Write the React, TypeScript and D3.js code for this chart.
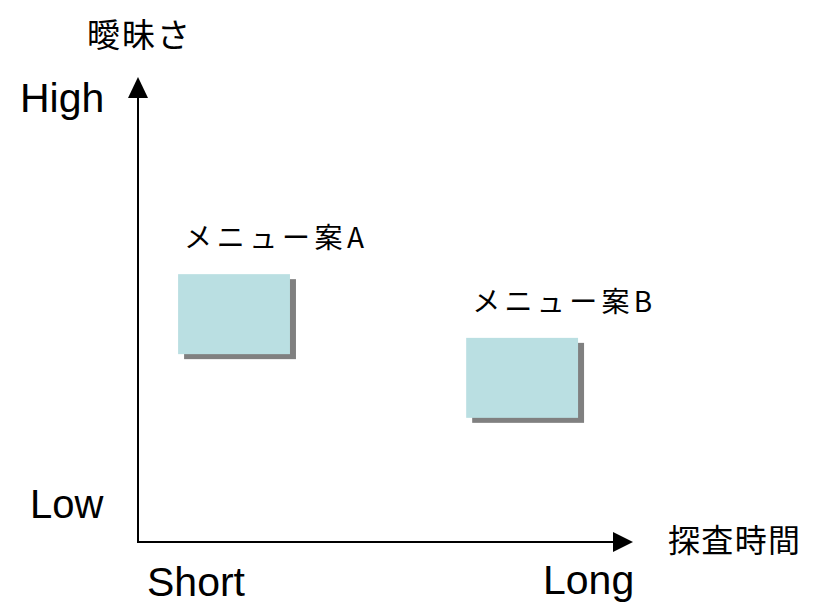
import React from 'react';
import * as d3 from 'd3';

// ambiguity (y) vs search time (x), both on a 0-100 scale
const menus = ['メニュー案A', 'メニュー案B'];
const timeFrom = [8.1, 66.3];
const timeTo = [30.7, 88.9];
const ambiguityFrom = [40.4, 26.7];
const ambiguityTo = [57.6, 43.9];

const yTitle = '曖昧さ';
const xTitle = '探査時間';
const yTicks = ['Low', 'High'];
const xTicks = ['Short', 'Long'];

const W = 819;
const H = 605;
const latin = '"Liberation Sans", Arial, "Noto Sans CJK JP", sans-serif';
const cjk = '"Noto Sans CJK JP", sans-serif';

export default function App() {
  const x = d3.scaleLinear().domain([0, 100]).range([138, 633]);
  const y = d3.scaleLinear().domain([0, 100]).range([542, 77]);
  const head = 20;

  const boxes = menus.map((name, i) => ({
    name,
    x0: x(timeFrom[i]),
    x1: x(timeTo[i]),
    y0: y(ambiguityTo[i]),
    y1: y(ambiguityFrom[i]),
  }));

  return (
    <svg width={W} height={H} style={{ position: 'absolute', left: 0, top: 0 }}>
      <rect width={W} height={H} fill="#fff" />

      {/* axes */}
      <line x1={x(0)} y1={y(0)} x2={x(0)} y2={y(100) + head} stroke="#000" strokeWidth={2} />
      <path
        d={`M${x(0)},${y(100)} L${x(0) - 10},${y(100) + head + 1} L${x(0) + 10},${y(100) + head + 1} Z`}
        fill="#000"
      />
      <line x1={x(0) - 1} y1={y(0)} x2={x(100) - head} y2={y(0)} stroke="#000" strokeWidth={2} />
      <path
        d={`M${x(100)},${y(0)} L${x(100) - head},${y(0) - 10} L${x(100) - head},${y(0) + 10} Z`}
        fill="#000"
      />

      {/* boxes with drop shadow */}
      {boxes.map((b) => (
        <g key={b.name}>
          <rect x={b.x0 + 6} y={b.y0 + 5} width={b.x1 - b.x0} height={b.y1 - b.y0} fill="#808080" />
          <rect x={b.x0} y={b.y0} width={b.x1 - b.x0} height={b.y1 - b.y0} fill="#badfe2" />
          <text
            x={b.x0 + 6}
            y={b.y0 - 26}
            fontFamily={cjk}
            fontSize={28}
            textLength={180}
            lengthAdjust="spacing"
            fill="#000"
          >
            {b.name}
          </text>
        </g>
      ))}

      {/* titles */}
      <text x={87} y={47} fontFamily={cjk} fontSize={33} textLength={103} lengthAdjust="spacing" fill="#000">
        {yTitle}
      </text>
      <text x={668} y={552} fontFamily={cjk} fontSize={32} textLength={132} lengthAdjust="spacing" fill="#000">
        {xTitle}
      </text>

      {/* tick words */}
      <text x={20} y={112} fontFamily={latin} fontSize={41} fill="#000">{yTicks[1]}</text>
      <text x={30} y={518} fontFamily={latin} fontSize={40} fill="#000">{yTicks[0]}</text>
      <text x={147} y={596} fontFamily={latin} fontSize={41} fill="#000">{xTicks[0]}</text>
      <text x={543} y={594} fontFamily={latin} fontSize={41} fill="#000">{xTicks[1]}</text>
    </svg>
  );
}
